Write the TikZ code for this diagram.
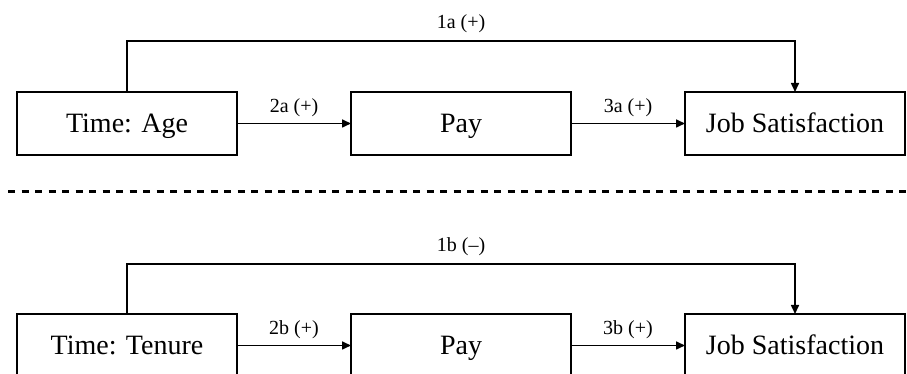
\documentclass[tikz,border=0pt]{standalone}
\usepackage{fontspec}
\setmainfont{Liberation Serif}
\usetikzlibrary{positioning, arrows.meta}

\tikzset{
  varbox/.style={draw, line width=1.8pt, outer sep=0pt, inner sep=0pt,
    minimum width=220pt, minimum height=63pt, text height=22pt, text depth=3pt,
    font=\fontsize{28}{34}\selectfont},
  link/.style={line width=1.6pt, -{Triangle[length=9pt, width=8pt]}},
  hyplabel/.style={font=\fontsize{20}{24}\selectfont, inner sep=4pt}
}

\begin{document}
\begin{tikzpicture}[x=1pt, y=1pt]
  % Page frame, the lower boxes run past its bottom edge
  \clip (0,0) rectangle (907,374);

  % Upper model: age
  \node[varbox] (agetime) at (127,250.5) {Time: Age};
  \node[varbox, right=114pt of agetime] (agepay) {Pay};
  \node[varbox, right=114pt of agepay] (agesat) {Job Satisfaction};

  \draw[link] (agetime) -- node[hyplabel, above=2pt] {2a (+)} (agepay);
  \draw[link] (agepay) -- node[hyplabel, above=2pt] {3a (+)} (agesat);
  \draw[link] (agetime.north) -- ++(0,51)
    -| node[hyplabel, pos=0.25, above=3pt] {1a (+)} (agesat.north);

  % Dashed divider
  \draw[line width=3pt, dash pattern=on 7pt off 6.5pt] (8,182) -- (907,182);

  % Lower model: tenure
  \node[varbox] (tentime) at (127,28.5) {Time: Tenure};
  \node[varbox, right=114pt of tentime] (tenpay) {Pay};
  \node[varbox, right=114pt of tenpay] (tensat) {Job Satisfaction};

  \draw[link] (tentime) -- node[hyplabel, above=2pt] {2b (+)} (tenpay);
  \draw[link] (tenpay) -- node[hyplabel, above=2pt] {3b (+)} (tensat);
  \draw[link] (tentime.north) -- ++(0,50)
    -| node[hyplabel, pos=0.25, above=3pt] {1b (--)} (tensat.north);
\end{tikzpicture}
\end{document}
